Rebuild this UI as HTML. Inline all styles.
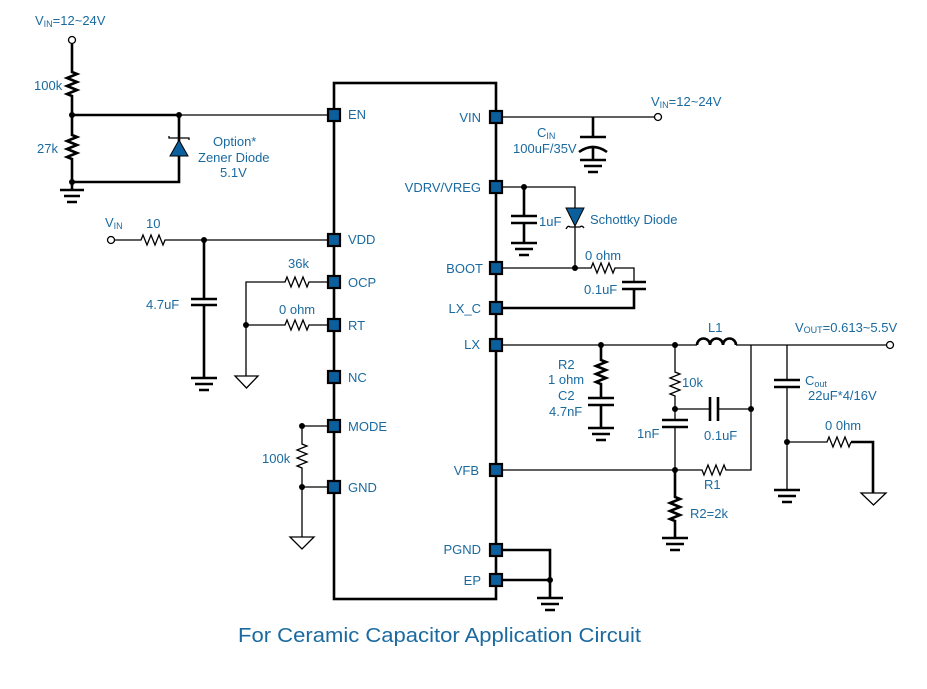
<!DOCTYPE html>
<html><head><meta charset="utf-8"><style>
html,body{margin:0;padding:0;background:#fff;}
svg{display:block;}
text{font-family:"Liberation Sans",Arial,sans-serif;fill:#1a6aa0;font-size:13px;}
.t{stroke:#000;stroke-width:1.3;fill:none;}
.k{stroke:#000;stroke-width:2.6;fill:none;}
.p{fill:#0b5f9c;stroke:#000;stroke-width:2.2;}
.d{fill:#000;}
</style></head><body>
<svg width="927" height="689" viewBox="0 0 927 689" xmlns="http://www.w3.org/2000/svg">
<rect x="334" y="83" width="162" height="516" class="k"/>

<text x="35" y="25">V<tspan font-size="9" dy="2">IN</tspan><tspan dy="-2">=12~24V</tspan></text>
<circle cx="72" cy="40" r="3.5" fill="#fff" stroke="#000" stroke-width="1.3"/>
<path class="k" d="M72 44 V72 l5 2 l-10 4 l10 4 l-10 4 l10 4 l-10 4 l5 2 V135 l5 2 l-10 4 l10 4 l-10 4 l10 4 l-10 4 l5 2 V190"/>
<path class="k" d="M72 115 H179 V182 H72"/>
<path class="t" d="M179 115 H334"/>
<circle cx="72" cy="115" r="3" class="d"/><circle cx="179" cy="115" r="3" class="d"/><circle cx="72" cy="182" r="3" class="d"/>
<path class="k" d="M60 190 H84 M64 196 H80 M67 202 H77"/>
<polygon points="179,140 170,156 188,156" fill="#0b5f9c" stroke="#000" stroke-width="1"/>
<path class="t" d="M169 136 V138 H189 V140"/>
<text x="34" y="90">100k</text>
<text x="37" y="153">27k</text>
<text x="213" y="146">Option*</text>
<text x="198" y="162">Zener Diode</text>
<text x="220" y="177">5.1V</text>

<text x="105" y="227">V<tspan font-size="9" dy="2">IN</tspan></text>
<text x="146" y="228">10</text>
<circle cx="111" cy="240" r="3.5" fill="#fff" stroke="#000" stroke-width="1.3"/>
<path class="t" d="M115 240 H141 l2 -5 l4 10 l4 -10 l4 10 l4 -10 l4 10 l2 -5 H334"/>
<circle cx="204" cy="240" r="3" class="d"/>
<path class="k" d="M204 240 V299 M191 299 H217 M191 305 H217 M204 305 V378 M191 378 H217 M195 384 H213 M199 390 H209"/>
<text x="146" y="309">4.7uF</text>

<text x="288" y="268">36k</text>
<text x="279" y="314">0 ohm</text>
<path class="t" d="M246 376 V282 H285 l2 -5 l4 10 l4 -10 l4 10 l4 -10 l4 10 l2 -5 H334"/>
<path class="t" d="M246 325 H285 l2 -5 l4 10 l4 -10 l4 10 l4 -10 l4 10 l2 -5 H334"/>
<circle cx="246" cy="325" r="3" class="d"/>
<polygon points="235,376 258,376 246.5,388" fill="#fff" stroke="#000" stroke-width="1.3"/>

<path class="t" d="M334 426 H302 V444 l5 2 l-10 4 l10 4 l-10 4 l10 4 l-10 4 l5 2 V537 M302 487 H334"/>
<circle cx="302" cy="426" r="3" class="d"/><circle cx="302" cy="487" r="3" class="d"/>
<polygon points="290,537 314,537 302,549" fill="#fff" stroke="#000" stroke-width="1.3"/>
<text x="262" y="463">100k</text>

<path class="t" d="M496 117 H654"/>
<circle cx="658" cy="117" r="3.5" fill="#fff" stroke="#000" stroke-width="1.3"/>
<text x="651" y="106">V<tspan font-size="9" dy="2">IN</tspan><tspan dy="-2">=12~24V</tspan></text>
<path class="k" d="M593 117 V137 M580 137 H606 M593 148 V160 M580 160 H606 M584 166 H602 M588 172 H598"/>
<path class="k" d="M579 152 Q593 142 607 152"/>
<text x="537" y="137">C<tspan font-size="9" dy="2">IN</tspan></text>
<text x="513" y="153">100uF/35V</text>

<path class="t" d="M496 187 H575 V208"/>
<circle cx="524" cy="187" r="3" class="d"/>
<path class="k" d="M524 187 V216 M511 216 H537 M511 223 H537 M524 223 V243 M511 243 H537 M515 249 H533 M519 255 H529"/>
<text x="539" y="226">1uF</text>
<polygon points="566,208 584,208 575,226" fill="#0b5f9c" stroke="#000" stroke-width="1"/>
<path class="t" d="M566 229 Q568 225 570 227 H580 Q582 225 584 228 M575 226 V268"/>
<text x="590" y="224">Schottky Diode</text>

<path class="t" d="M496 268 H591 l2 -5 l4 10 l4 -10 l4 10 l4 -10 l4 10 l2 -5 H634 V282"/>
<circle cx="575" cy="268" r="3" class="d"/>
<path class="k" d="M622 282 H646 M622 289 H646"/>
<path class="k" d="M634 289 V308 H496"/>
<text x="585" y="260">0 ohm</text>
<text x="584" y="294">0.1uF</text>

<path class="t" d="M496 345 H697"/>
<path class="k" d="M697 345 a6.5 6.5 0 0 1 13 0 a6.5 6.5 0 0 1 13 0 a6.5 6.5 0 0 1 13 0"/>
<path class="t" d="M736 345 H886"/>
<circle cx="890" cy="345" r="3.5" fill="#fff" stroke="#000" stroke-width="1.3"/>
<text x="708" y="332">L1</text>
<text x="795" y="332">V<tspan font-size="9" dy="1">OUT</tspan><tspan dy="-1">=0.613~5.5V</tspan></text>
<circle cx="601" cy="345" r="3" class="d"/><circle cx="675" cy="345" r="3" class="d"/>
<path class="k" d="M601 345 V360 l5 2 l-10 4 l10 4 l-10 4 l10 4 l-10 4 l5 2 V398 M588 398 H614 M588 405 H614 M601 405 V428 M588 428 H614 M592 434 H610 M596 440 H606"/>
<text x="558" y="369">R2</text>
<text x="548" y="384">1 ohm</text>
<text x="558" y="400">C2</text>
<text x="549" y="416">4.7nF</text>

<path class="t" d="M675 345 V372 l5 2 l-10 4 l10 4 l-10 4 l10 4 l-10 4 l5 2 V420 M675 427 V470"/>
<path class="k" d="M662 420 H688 M662 427 H688"/>
<text x="682" y="387">10k</text>
<circle cx="675" cy="409" r="3" class="d"/>
<path class="t" d="M675 409 H710 M718 409 H751"/>
<path class="k" d="M710 397 V421 M718 397 V421"/>
<circle cx="751" cy="409" r="3" class="d"/>
<path class="t" d="M751 345 V470 H726 l-2 -5 l-4 10 l-4 -10 l-4 10 l-4 -10 l-4 10 l-2 -5 H675"/>
<path class="t" d="M496 470 H675"/>
<circle cx="675" cy="470" r="3" class="d"/>
<text x="637" y="438">1nF</text>
<text x="704" y="440">0.1uF</text>
<text x="704" y="489">R1</text>
<path class="k" d="M675 470 V497 l5 2 l-10 4 l10 4 l-10 4 l10 4 l-10 4 l5 2 V538 M662 538 H688 M666 544 H684 M670 550 H680"/>
<text x="690" y="518">R2=2k</text>

<path class="t" d="M787 345 V380 M787 387 V490"/>
<path class="k" d="M774 380 H800 M774 387 H800 M774 490 H800 M778 496 H796 M782 502 H792"/>
<circle cx="787" cy="442" r="3" class="d"/>
<path class="t" d="M787 442 H827 l2 -5 l4 10 l4 -10 l4 10 l4 -10 l4 10 l2 -5"/>
<path class="k" d="M851 442 H873 V493"/>
<polygon points="861,493 886,493 873.5,505" fill="#fff" stroke="#000" stroke-width="1.3"/>
<text x="805" y="385">C<tspan font-size="9" dy="2">out</tspan></text>
<text x="808" y="394" dy="6">22uF*4/16V</text>
<text x="825" y="430">0 0hm</text>

<path class="k" d="M496 550 H550 V598 M496 580 H550 M537 598 H563 M541 604 H559 M545 610 H555"/>
<circle cx="550" cy="580" r="3" class="d"/>

<g class="p">
<rect x="328" y="109" width="12" height="12"/>
<rect x="328" y="234" width="12" height="12"/>
<rect x="328" y="276" width="12" height="12"/>
<rect x="328" y="319" width="12" height="12"/>
<rect x="328" y="371" width="12" height="12"/>
<rect x="328" y="420" width="12" height="12"/>
<rect x="328" y="481" width="12" height="12"/>
<rect x="490" y="111" width="12" height="12"/>
<rect x="490" y="181" width="12" height="12"/>
<rect x="490" y="262" width="12" height="12"/>
<rect x="490" y="302" width="12" height="12"/>
<rect x="490" y="339" width="12" height="12"/>
<rect x="490" y="464" width="12" height="12"/>
<rect x="490" y="544" width="12" height="12"/>
<rect x="490" y="574" width="12" height="12"/>
</g>
<text x="348" y="119">EN</text>
<text x="348" y="244">VDD</text>
<text x="348" y="287">OCP</text>
<text x="348" y="330">RT</text>
<text x="348" y="382">NC</text>
<text x="348" y="431">MODE</text>
<text x="348" y="492">GND</text>
<text x="481" y="122" text-anchor="end">VIN</text>
<text x="481" y="192" text-anchor="end">VDRV/VREG</text>
<text x="483" y="273" text-anchor="end">BOOT</text>
<text x="481" y="313" text-anchor="end">LX_C</text>
<text x="480" y="349" text-anchor="end">LX</text>
<text x="479" y="475" text-anchor="end">VFB</text>
<text x="481" y="554" text-anchor="end">PGND</text>
<text x="481" y="585" text-anchor="end">EP</text>

<text x="238" y="642" style="font-size:20px" fill="#1a6aa0" textLength="403" lengthAdjust="spacingAndGlyphs">For Ceramic Capacitor Application Circuit</text>
</svg>
</body></html>
